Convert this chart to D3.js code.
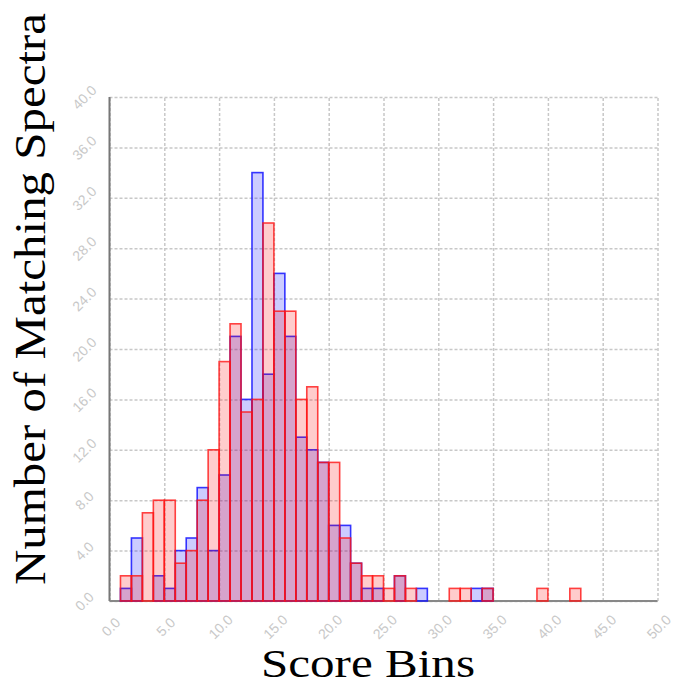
<!DOCTYPE html>
<html>
<head>
<meta charset="utf-8">
<title>Score Bins</title>
</head>
<body style="margin:0;background:#fff">
<script src="https://cdn.jsdelivr.net/npm/d3@7"></script>
<script>
// counts per score bin; bin i covers [i, i+1)
var redCounts = [0, 2, 2, 7, 8, 8, 3, 4, 8, 12, 19, 22, 15, 16, 30, 23, 23, 16, 17, 11, 11,
                 5, 3, 2, 2, 1, 2, 1, 0, 0, 0, 1, 1, 0, 1, 0, 0, 0, 0, 1, 0, 0, 1]
var blueCounts = [0, 1, 5, 0, 2, 1, 4, 5, 9, 4, 10, 21, 16, 34, 18, 26, 21, 13, 12, 11, 6,
                  6, 3, 1, 1, 0, 2, 0, 1, 0, 0, 0, 0, 1, 1]
var xTicks = [0, 5, 10, 15, 20, 25, 30, 35, 40, 45, 50]
var yTicks = [0, 4, 8, 12, 16, 20, 24, 28, 32, 36, 40]

var width = 674, height = 687
var margin = {top: 97, right: 16.5, bottom: 86, left: 109.5}
var plotW = width - margin.left - margin.right,
    plotH = height - margin.top - margin.bottom

var svg = d3.select("body").append("svg")
    .attr("width", width)
    .attr("height", height)

var g = svg.append("g")
    .attr("transform", `translate(${margin.left},${margin.top})`)

var x = d3.scaleLinear().domain([0, 50]).range([0, plotW])
var y = d3.scaleLinear().domain([0, 40]).range([plotH, 0])

function styleGrid(axisG) {
    axisG.attr("font-family", "'Liberation Sans', Arial, sans-serif").attr("font-size", 14)
    axisG.select(".domain").remove()
    axisG.selectAll("line")
        .attr("stroke", "#c8c8c8")
        .attr("stroke-width", 1.5)
        .attr("stroke-dasharray", "3,2")
    axisG.selectAll("text").attr("fill", "#c8c8c8")
}

// grid + tick labels
var yAxis = g.append("g")
    .call(d3.axisLeft(y).tickValues(yTicks).tickFormat(d3.format(".1f")).tickSize(-plotW))
styleGrid(yAxis)
yAxis.selectAll("text")
    .attr("x", -25).attr("y", 0).attr("dy", "0.35em")
    .attr("text-anchor", "middle")
    .attr("transform", "rotate(-45,-25,0)")

var xAxis = g.append("g")
    .attr("transform", `translate(0,${plotH})`)
    .call(d3.axisBottom(x).tickValues(xTicks).tickFormat(d3.format(".1f")).tickSize(-plotH))
styleGrid(xAxis)
xAxis.selectAll("text")
    .attr("x", 1).attr("y", 26).attr("dy", "0.35em")
    .attr("text-anchor", "middle")
    .attr("transform", "rotate(-45,1,26)")

// axis lines
g.append("line")
    .attr("x1", 0).attr("x2", 0).attr("y1", 0).attr("y2", plotH)
    .attr("stroke", "#777").attr("stroke-width", 2)
g.append("line")
    .attr("x1", 0).attr("x2", plotW).attr("y1", plotH).attr("y2", plotH)
    .attr("stroke", "#888").attr("stroke-width", 2)

// histogram series, blue underneath red
function drawSeries(counts, fill, stroke, cls) {
    g.selectAll("rect." + cls)
        .data(counts)
        .enter().append("rect")
        .attr("class", cls)
        .attr("x", (d, i) => x(i))
        .attr("width", (d, i) => x(i + 1) - x(i))
        .attr("y", d => y(d))
        .attr("height", d => y(0) - y(d))
        .attr("fill", fill)
        .attr("stroke", stroke)
        .attr("stroke-width", 1.6)
}
drawSeries(blueCounts, "rgba(0,0,255,0.2)", "rgba(20,20,255,0.85)", "blue")
drawSeries(redCounts, "rgba(255,0,0,0.2)", "rgba(255,20,20,0.8)", "red")

// axis titles
var serif = "'Liberation Serif', 'Times New Roman', serif"
svg.append("text")
    .attr("x", 368).attr("y", 677)
    .attr("text-anchor", "middle")
    .attr("font-family", serif)
    .attr("font-size", 40)
    .attr("textLength", 214)
    .attr("lengthAdjust", "spacingAndGlyphs")
    .text("Score Bins")

svg.append("text")
    .attr("transform", "translate(45,299) rotate(-90)")
    .attr("text-anchor", "middle")
    .attr("font-family", serif)
    .attr("font-size", 45)
    .attr("textLength", 572)
    .attr("lengthAdjust", "spacingAndGlyphs")
    .text("Number of Matching Spectra")
</script>
</body>
</html>
